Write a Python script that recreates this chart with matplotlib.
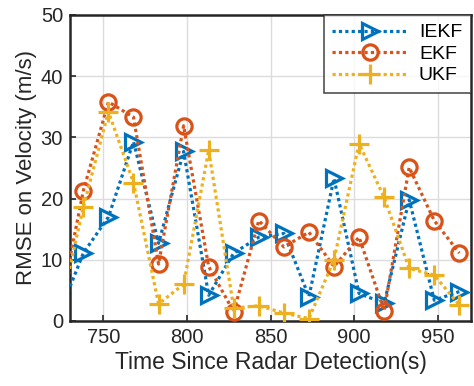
import matplotlib
matplotlib.use("Agg")
import matplotlib.pyplot as plt

plt.rcParams['font.family'] = ['Liberation Sans', 'DejaVu Sans']

# Sampling times (s); the first sample lies just before the visible window
time_s = [723, 738, 753, 768, 783, 798, 813, 828, 843, 858, 873, 888, 903, 918, 933, 948, 963]

rmse_iekf = [0.8, 11.1, 17.0, 29.3, 12.7, 27.7, 4.2, 11.1, 13.7, 14.3, 4.0, 23.3, 4.5, 2.9, 19.8, 3.4, 4.8]
rmse_ekf = [0.7, 21.3, 35.8, 33.3, 9.3, 31.9, 8.9, 1.5, 16.4, 12.1, 14.5, 8.9, 13.7, 1.7, 25.1, 16.4, 11.1]
rmse_ukf = [0.4, 18.6, 34.2, 22.6, 2.8, 6.0, 27.9, 2.1, 2.5, 1.3, 0.4, 10.0, 29.0, 20.2, 8.6, 7.5, 2.6]

series_names = ["IEKF", "EKF", "UKF"]
x_ticks = [750, 800, 850, 900, 950]
y_ticks = [0, 10, 20, 30, 40, 50]

colors = ["#0072BD", "#D95319", "#EDB120"]
markers = [">", "o", "+"]
marker_sizes = [12, 11, 14]
text_color = "#262626"

fig = plt.figure(figsize=(4.74, 3.86), dpi=100)
ax = fig.add_axes([70 / 474, 1 - 321 / 386, 401 / 474, 306 / 386])

for vals, name, c, m, ms in zip([rmse_iekf, rmse_ekf, rmse_ukf], series_names,
                                colors, markers, marker_sizes):
    ax.plot(time_s, vals, linestyle=(0, (1, 1)), linewidth=2.3, color=c,
            marker=m, markersize=ms, markerfacecolor="none",
            markeredgecolor=c, markeredgewidth=2.3, label=name,
            dash_capstyle="butt", zorder=3)

ax.set_xlim(730, 970)
ax.set_ylim(0, 50)
ax.set_xticks(x_ticks)
ax.set_yticks(y_ticks)
ax.grid(True, color="#dcdcdc", linewidth=1.0, zorder=0)
ax.set_axisbelow(True)

for side in ["left", "right", "top", "bottom"]:
    ax.spines[side].set_color(text_color)
    ax.spines[side].set_linewidth(1.8)
ax.tick_params(direction="in", length=4, width=1.2, colors=text_color,
               labelsize=14.5, top=False, right=False, pad=5)

ax.set_xlabel("Time Since Radar Detection(s)", fontsize=16.5, color=text_color, labelpad=3)
ax.set_ylabel("RMSE on Velocity (m/s)", fontsize=16, color=text_color, labelpad=3)

leg = ax.legend(loc="upper right", fontsize=14, frameon=True, fancybox=False,
                borderaxespad=0, handlelength=3.9, handletextpad=0.55,
                labelspacing=0.2, borderpad=0.45)
leg.get_frame().set_edgecolor(text_color)
leg.get_frame().set_linewidth(1.2)
for t in leg.get_texts():
    t.set_color("black")

fig.savefig("out.png", dpi=100)
